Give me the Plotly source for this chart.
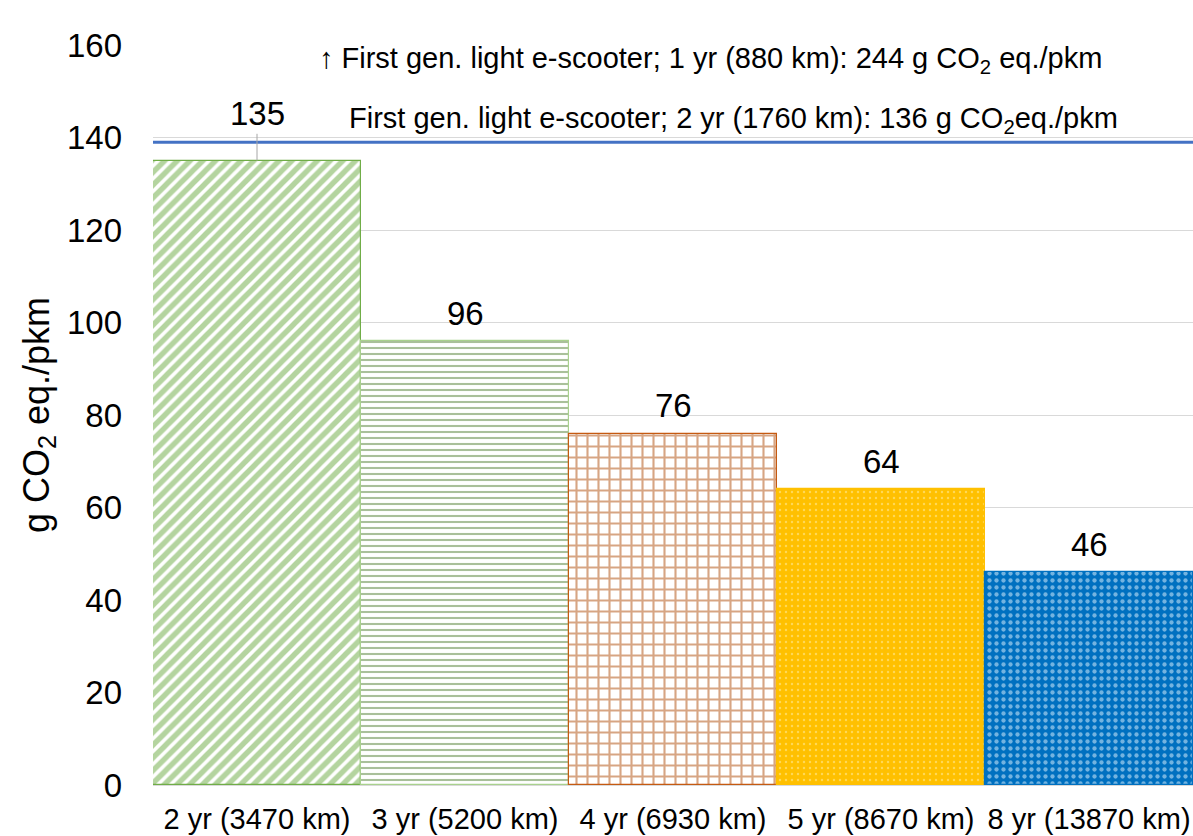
import plotly.graph_objects as go

categories = ["2 yr (3470 km)", "3 yr (5200 km)", "4 yr (6930 km)", "5 yr (8670 km)", "8 yr (13870 km)"]
values = [135, 96, 76, 64, 46]
labels = ["135", "96", "76", "64", "46"]
ref_line_value = 139
ref_texts = [
    "\u2191 First gen. light e-scooter; 1 yr (880 km): 244 g CO<sub>2</sub> eq./pkm",
    "First gen. light e-scooter; 2 yr (1760 km): 136 g CO<sub>2</sub>eq./pkm",
]

patterns = [
    dict(shape="/", fgcolor="#6AAA40", bgcolor="white", size=9, solidity=0.6),
    dict(shape="-", fgcolor="#548235", bgcolor="white", size=6, solidity=0.35),
    dict(shape="+", fgcolor="#B04C08", bgcolor="white", size=11, solidity=0.35),
    dict(shape=".", fgcolor="#FFF0B0", bgcolor="#FFC000", size=6, solidity=0.12),
    dict(shape=".", fgcolor="#E6F6FF", bgcolor="#0070C0", size=7, solidity=0.3),
]
borders = ["#70AD47", "#A9D18E", "#C55A11", "#FFC000", "#0070C0"]

FONT = "Liberation Sans, Arial, sans-serif"

fig = go.Figure()
for i, (c, v) in enumerate(zip(categories, values)):
    fig.add_trace(go.Bar(
        x=[c], y=[v],
        marker=dict(pattern=patterns[i], line=dict(color=borders[i], width=1.2)),
        showlegend=False, hoverinfo="skip",
    ))

# reference line
fig.add_shape(type="line", xref="paper", x0=0, x1=1, yref="y",
              y0=ref_line_value, y1=ref_line_value,
              line=dict(color="#4472C4", width=3))

# value labels
for i, (c, v, t) in enumerate(zip(categories, values, labels)):
    shift = 47 if i == 0 else 28
    fig.add_annotation(x=c, y=v, text=t, showarrow=False, yshift=shift,
                       font=dict(size=33, color="black", family=FONT))

# leader line for first label
fig.add_shape(type="line", xref="x", yref="y", x0=0, x1=0,
              y0=values[0], y1=values[0] + 5.8,
              line=dict(color="#A6A6A6", width=1))

fig.add_annotation(xref="paper", yref="paper", x=0.536, y=0.980, yanchor="middle",
                   text=ref_texts[0], showarrow=False,
                   font=dict(size=29, color="black", family=FONT))
fig.add_annotation(xref="paper", yref="paper", x=0.558, y=0.899, yanchor="middle",
                   text=ref_texts[1], showarrow=False,
                   font=dict(size=29, color="black", family=FONT))

fig.update_layout(
    width=1193, height=836,
    margin=dict(l=153, r=0, t=45, b=51),
    paper_bgcolor="white", plot_bgcolor="white",
    bargap=0,
    font=dict(family=FONT, color="black"),
    xaxis=dict(showgrid=False, showline=True, linecolor="#D9D9D9", linewidth=1,
               tickfont=dict(size=29), ticklabelstandoff=8),
    yaxis=dict(range=[0, 160], dtick=20, showgrid=True, gridcolor="#D9D9D9",
               zeroline=False, tickfont=dict(size=33), ticklabelstandoff=30,
               title=dict(text="g CO<sub>2</sub> eq./pkm", font=dict(size=36), standoff=6)),
)

fig.write_html(
    "out.html",
    config={"displayModeBar": False},
    post_script="document.body.style.margin='0';document.body.style.overflow='hidden';",
)
